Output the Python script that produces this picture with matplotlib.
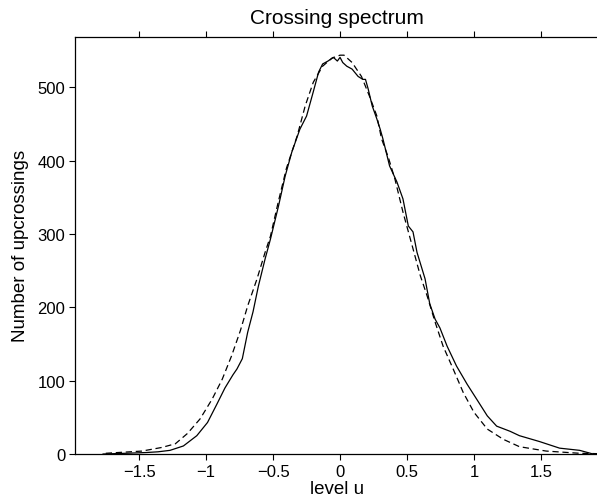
import matplotlib
matplotlib.use("Agg")
import matplotlib.pyplot as plt
import numpy as np

plt.rcParams['font.family'] = ['Liberation Sans', 'DejaVu Sans']

# observed upcrossing counts (solid)
u_obs = [-1.77, -1.60, -1.45, -1.36, -1.27, -1.17, -1.07, -0.99, -0.92, -0.86,
         -0.80, -0.77, -0.73, -0.69, -0.65, -0.61, -0.56, -0.52,
         -0.46, -0.41, -0.36, -0.30, -0.25, -0.20, -0.16, -0.13, -0.09, -0.05,
         -0.02, 0.00, 0.02, 0.05, 0.09, 0.135, 0.17, 0.19, 0.21, 0.24,
         0.275, 0.30, 0.32, 0.37, 0.425, 0.47, 0.51, 0.545, 0.575, 0.60,
         0.635, 0.67, 0.71, 0.746, 0.80, 0.87, 0.95, 1.02, 1.10, 1.17,
         1.27, 1.34, 1.49, 1.64, 1.79, 1.89]
n_obs = [0, 1, 2, 3, 5, 11, 25, 43, 68, 90,
         108, 116, 130, 166, 194, 229, 266, 293,
         338, 379, 412, 443, 461, 494, 521, 532, 536, 541,
         536, 541, 534, 529, 525, 515, 511, 511, 498, 475,
         457, 443, 430, 393, 371, 348, 311, 303, 275, 260,
         239, 205, 184, 172, 147, 120, 95, 75, 52, 38,
         31, 25, 17, 8, 5, 0]

# theoretical crossing spectrum (dashed)
u_th = [-1.75, -1.48, -1.33, -1.23, -1.14, -1.045, -0.955, -0.88, -0.81, -0.745,
        -0.69, -0.62, -0.56, -0.52, -0.46, -0.40, -0.32, -0.26, -0.20, -0.13,
        -0.06, 0.0, 0.03, 0.09, 0.16, 0.22, 0.275, 0.31, 0.36, 0.41,
        0.47, 0.545, 0.60, 0.65, 0.71, 0.77, 0.845, 0.92, 1.0, 1.10,
        1.22, 1.34, 1.54, 1.79, 1.92]
n_th = [1, 4, 9, 14, 28, 48, 75, 102, 134, 168,
        202, 239, 275, 297, 345, 390, 434, 475, 507, 529,
        540, 544, 544, 534, 515, 488, 461, 430, 405, 375,
        330, 280, 243, 216, 180, 147, 116, 84, 57, 34,
        20, 10, 4, 1, 0.5]

xticks = [-1.5, -1, -0.5, 0, 0.5, 1, 1.5]
xticklabels = ['\u22121.5', '\u22121', '\u22120.5', '0', '0.5', '1', '1.5']
yticks = [0, 100, 200, 300, 400, 500]

fig = plt.figure(figsize=(5.97, 5.02), dpi=100)
ax = fig.add_axes([0.1256, 0.0936, 0.879, 0.831])

ax.plot(u_obs, n_obs, '-', color='black', lw=0.9)
ax.plot(u_th, n_th, '--', color='black', lw=0.9, dashes=(5, 3))

ax.set_xlim(-1.98, 1.94)
ax.set_ylim(0, 569)
ax.set_xticks(xticks)
ax.set_xticklabels(xticklabels)
ax.set_yticks(yticks)
ax.tick_params(direction='out', length=4, width=0.8, labelsize=12,
               top=True, right=True, pad=3)
for s in ax.spines.values():
    s.set_linewidth(0.9)

ax.set_title('Crossing spectrum', fontsize=15, pad=10)
ax.set_xlabel('level u', fontsize=13.5, labelpad=1)
ax.set_ylabel('Number of upcrossings', fontsize=13.5, labelpad=6)

fig.savefig('out.png', dpi=100)
